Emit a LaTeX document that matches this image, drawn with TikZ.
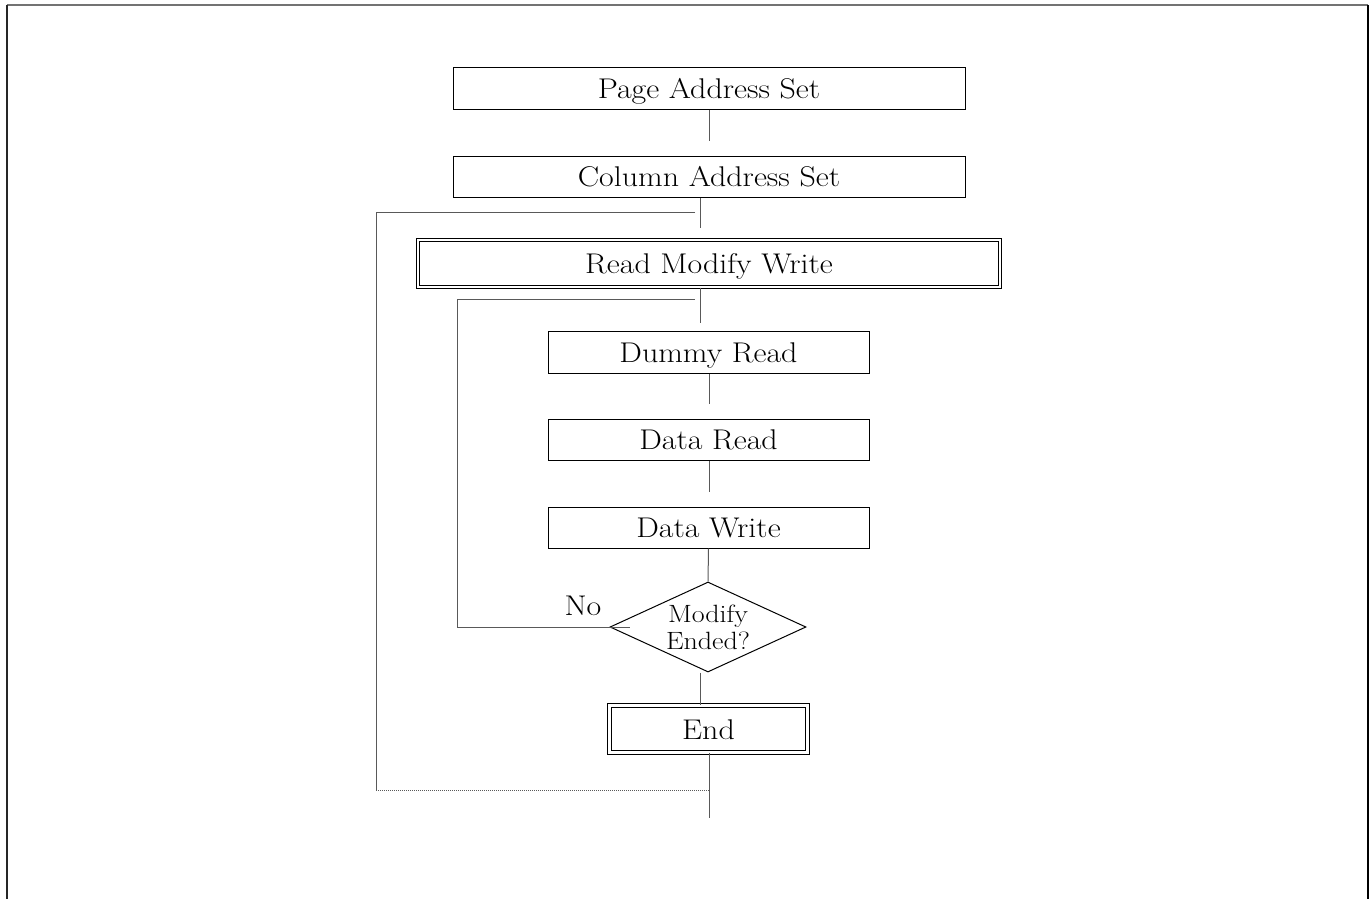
\documentclass[tikz,border=0pt]{standalone}
\usepackage{fontspec}
\setmainfont{Latin Modern Roman}[FakeStretch=1.12]
\usetikzlibrary{shapes.geometric,calc}
\begin{document}
\begin{tikzpicture}[x=1pt,y=-1pt,
  box/.style={draw=black,line width=1pt,rectangle,inner sep=0pt,text height=20pt,text depth=0pt,font=\fontsize{28.5}{30}\selectfont},
  dbox/.style={draw=black,line width=1pt,double=white,double distance=2.6pt,rectangle,inner sep=0pt,text height=20pt,text depth=0pt,font=\fontsize{28.5}{30}\selectfont},
  conn/.style={draw=black!65,line width=1pt},
  dec/.style={draw=black,line width=1pt,diamond,inner sep=0pt,aspect=2.18,minimum width=196pt,minimum height=90pt,align=center,font=\fontsize{25}{27}\selectfont}]
\useasboundingbox (0,0) rectangle (1371,899);
% frame
\draw[black!55,line width=1.6pt] (6.5,5) -- (1368,5);
\draw[black!85,line width=2pt] (6.5,5) -- (6.5,899);
\draw[black,line width=2.2pt] (1368,5) -- (1368,899);
% nodes
\node[box,minimum width=512pt,minimum height=41pt] (page) at (709,88.5) {Page Address Set};
\node[box,minimum width=512pt,minimum height=41pt] (col) at (709,176.5) {Column Address Set};
\node[dbox,minimum width=582pt,minimum height=47pt] (rmw) at (709,263.5) {Read Modify Write};
\node[box,minimum width=321pt,minimum height=42pt] (dummy) at (708.5,352) {Dummy Read};
\node[box,minimum width=321pt,minimum height=41pt] (dread) at (708.5,439.5) {Data Read};
\node[box,minimum width=321pt,minimum height=41pt] (dwrite) at (708.5,527.5) {Data Write};
\node[dec] (dia) at (708,627) {Modify\\Ended?};
\node[dbox,minimum width=198pt,minimum height=46.5pt] (end) at (708.5,729) {End};
\node[font=\fontsize{28.5}{30}\selectfont,inner sep=0pt] (no) at (583,606) {No};
% free coordinates
\coordinate (l1a) at (695,212);
\coordinate (l1b) at (376,212);
\coordinate (l1c) at (376,790);
\coordinate (l1d) at (709,790);
\coordinate (l2a) at (695,299);
\coordinate (l2b) at (457,299);
\coordinate (l2c) at (457,627);
\coordinate (out) at (709,818);
% connectors
\draw[conn,shorten >=15pt] (page.south) -- (col.north);
\draw[conn,shorten >=12pt] ([xshift=-9pt]col.south) -- ([xshift=-9pt]rmw.north);
\draw[conn,shorten >=8pt] ([xshift=-9pt]rmw.south) -- ([xshift=-8.5pt]dummy.north);
\draw[conn,shorten >=15pt] ([xshift=0.5pt]dummy.south) -- ([xshift=0.5pt]dread.north);
\draw[conn,shorten >=15pt] ([xshift=0.5pt]dread.south) -- ([xshift=0.5pt]dwrite.north);
\draw[conn] (dwrite.south) -- (dia.north);
\draw[conn] ([xshift=-8pt]dia.south) -- ([xshift=-8.5pt]end.north);
\draw[conn] ([xshift=0.5pt]end.south) -- (out);
\draw[conn] (l1a) -- (l1b) -- (l1c);
\draw[conn,densely dotted,line width=0.9pt] (l1c) -- (l1d);
\draw[conn] ([xshift=20pt]dia.west) -- (l2c) -- (l2b) -- (l2a);
\end{tikzpicture}
\end{document}
